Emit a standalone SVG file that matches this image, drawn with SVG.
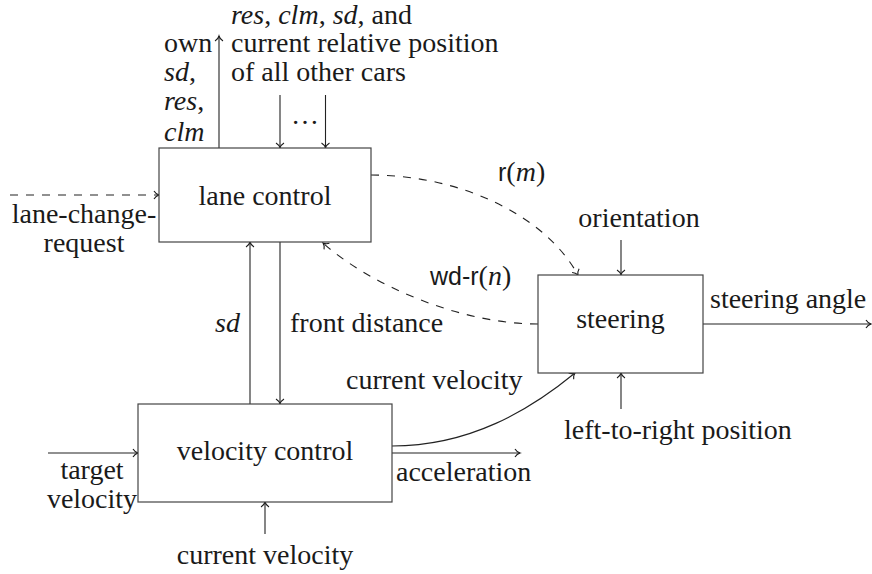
<svg xmlns="http://www.w3.org/2000/svg" width="872" height="574" viewBox="0 0 872 574">
<defs>
<marker id="arr" markerUnits="userSpaceOnUse" markerWidth="14" markerHeight="14" viewBox="-7 -7 14 14" refX="0" refY="0" orient="auto" overflow="visible">
<path d="M -5 -4 C -3.5 -1.5 -1 -0.3 0 0 C -1 0.3 -3.5 1.5 -5 4" fill="none" stroke="#1a1a1a" stroke-width="1.1" stroke-dasharray="none"/>
</marker>
<style>
.box{fill:#fff;stroke:#444;stroke-width:1.2}
.ln{fill:none;stroke:#222;stroke-width:1.1;marker-end:url(#arr)}
.dash{stroke-dasharray:8 8}
.m{text-anchor:middle}
.e{text-anchor:end}
.i{font-style:italic}
</style>
</defs>
<rect width="872" height="574" fill="#fff"/>
<g id="connectors">
<path class="ln" d="M219,148 L219,36"/>
<path class="ln" d="M280,95 L280,148"/>
<path class="ln" d="M325.5,95 L325.5,148"/>
<path class="ln dash" d="M10,195 L159,195"/>
<path class="ln dash" d="M371,175 C460,175 545,215 578,275"/>
<path class="ln dash" d="M538,324 C460,324 370,285 323,243"/>
<path class="ln" d="M250,404 L250,242"/>
<path class="ln" d="M280,242 L280,404"/>
<path class="ln" d="M621,240 L621,275"/>
<path class="ln" d="M703,324 L871,324"/>
<path class="ln" d="M621,409 L621,373"/>
<path class="ln" d="M392,446 C470,446 530,410 575,373"/>
<path class="ln" d="M392,453 L520,453"/>
<path class="ln" d="M48,453 L138,453"/>
<path class="ln" d="M265,534 L265,502"/>
</g>
<g font-family="Liberation Serif, serif" font-size="28" fill="#1a1a1a">
<g id="lane-control">
<rect class="box" x="159" y="148" width="212" height="94"/>
<text class="m" x="265" y="205">lane control</text>
</g>
<g id="steering">
<rect class="box" x="538" y="275" width="165" height="98"/>
<text class="m" x="620.5" y="328">steering</text>
</g>
<g id="velocity-control">
<rect class="box" x="138" y="404" width="254" height="98"/>
<text class="m" x="265" y="460">velocity control</text>
</g>
<g id="labels">
<text x="164" y="52">own</text>
<text x="164" y="81"><tspan class="i">sd</tspan>,</text>
<text x="164" y="110"><tspan class="i">res</tspan>,</text>
<text class="i" x="164" y="141">clm</text>
<text x="231" y="24"><tspan class="i">res</tspan>, <tspan class="i">clm</tspan>, <tspan class="i">sd</tspan>, and</text>
<text x="231" y="52">current relative position</text>
<text x="231" y="81">of all other cars</text>
<text class="m" x="305" y="124">…</text>
<text class="m" x="84" y="223">lane-change-</text>
<text class="m" x="84" y="252">request</text>
<text x="498" y="181"><tspan font-family="Liberation Sans, sans-serif" font-size="25">r</tspan>(<tspan class="i">m</tspan>)</text>
<text x="430" y="285"><tspan font-family="Liberation Sans, sans-serif" font-size="25">wd-r</tspan>(<tspan class="i">n</tspan>)</text>
<text class="m" x="639" y="227">orientation</text>
<text x="710" y="308">steering angle</text>
<text class="e i" x="240" y="332">sd</text>
<text x="290" y="332">front distance</text>
<text x="346" y="389">current velocity</text>
<text x="564" y="439">left-to-right position</text>
<text x="396" y="481">acceleration</text>
<text class="m" x="92" y="479">target</text>
<text class="m" x="92" y="508">velocity</text>
<text class="m" x="265" y="564">current velocity</text>
</g>
</g>
</svg>
